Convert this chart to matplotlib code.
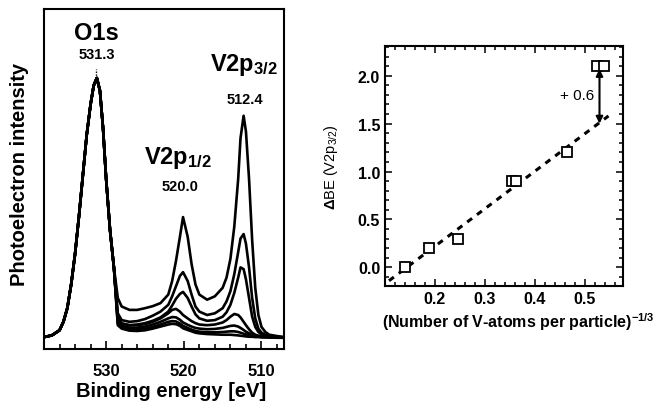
import matplotlib
matplotlib.use("Agg")
import matplotlib.pyplot as plt
from matplotlib.ticker import MultipleLocator, NullLocator

plt.rcParams['font.family'] = ['Liberation Sans', 'DejaVu Sans']
plt.rcParams['mathtext.fontset'] = 'custom'
plt.rcParams['mathtext.rm'] = 'Liberation Sans'
plt.rcParams['mathtext.bf'] = 'Liberation Sans:bold'
plt.rcParams['mathtext.default'] = 'bf'

# --- XPS spectra (binding energy in eV, intensity in arb. units) ---
# O1s region is common to all spectra (normalised to O1s)
e_o1s = [538, 537, 536, 535.5, 535, 534.5, 534, 533.5, 533, 532.5, 532, 531.6,
         531.2, 530.8, 530.4, 530, 529.5, 529]
i_o1s = [3.5, 4, 5.5, 8, 12, 19, 28, 39, 51, 63, 72, 77.5,
         79.7, 76, 65, 50, 35, 24]

e_v2p = [528.5, 528, 527, 526, 525, 524, 523, 522, 521.5, 521, 520.5, 520.1,
         519.5, 519, 518.5, 518, 517, 516, 515, 514.5, 514, 513.5, 513, 512.7,
         512.3, 512, 511.6, 511.2, 510.8, 510.4, 510, 509.5, 509, 508, 507]
spec_a = [15, 12.5, 11.5, 11.5, 12, 12.6, 13.5, 16, 20, 26, 33, 38.8,
          33, 25, 19, 16, 14.5, 15.5, 18, 21, 26.5, 36, 50, 62,
          68.6, 64, 50, 32, 18, 10, 6.5, 5, 4.2, 3.8, 3.5]
spec_b = [10.5, 8.5, 8, 8.2, 8.8, 9.8, 11, 13, 15.5, 18.5, 21.5, 22.6,
          20, 16, 12.5, 11, 10, 10.5, 12, 14, 17, 22, 28.5, 32.5,
          33.8, 31, 24, 15, 9, 6, 4.8, 4.2, 4, 3.6, 3.4]
spec_c = [9.5, 7.5, 7, 7.2, 7.6, 8.3, 9.3, 11, 12.8, 14.8, 16.2, 16.8,
          15, 12.5, 10.2, 9, 8.3, 8.5, 9.5, 10.8, 13, 16.5, 21, 24,
          23.5, 20.5, 15, 9.5, 6.5, 5, 4.3, 4, 3.8, 3.5, 3.3]
spec_d = [9, 7.5, 7, 7, 7.3, 8, 9, 10.5, 11.5, 11.8, 11, 10,
          9, 8.2, 7.6, 7.2, 7, 7.2, 7.8, 8.5, 9.5, 10.3, 10, 9.3,
          8, 7, 5.8, 4.8, 4.2, 3.9, 3.7, 3.6, 3.5, 3.4, 3.3]
spec_e = [8, 6.8, 6.3, 6.3, 6.6, 7.2, 8, 9, 9.4, 9.3, 8.6, 7.8,
          7.1, 6.6, 6.2, 6, 5.8, 5.9, 6.2, 6.5, 6.8, 6.9, 6.6, 6.2,
          5.6, 5.1, 4.6, 4.2, 4, 3.8, 3.7, 3.6, 3.5, 3.4, 3.3]
spec_f = [7.5, 6.3, 5.8, 5.8, 6, 6.5, 7.2, 8, 8.2, 8.1, 7.5, 6.8,
          6.2, 5.7, 5.3, 5.1, 4.9, 4.9, 5, 5.1, 5.2, 5.2, 5, 4.8,
          4.5, 4.3, 4.1, 3.9, 3.8, 3.7, 3.6, 3.5, 3.5, 3.4, 3.3]
spec_g = [7, 6, 5.4, 5.3, 5.5, 6, 6.6, 7.2, 7.4, 7.3, 6.8, 6.1,
          5.6, 5.2, 4.8, 4.6, 4.4, 4.3, 4.2, 4.2, 4.2, 4.1, 4, 3.9,
          3.8, 3.7, 3.6, 3.6, 3.5, 3.5, 3.4, 3.4, 3.4, 3.3, 3.3]
spectra = [spec_a, spec_b, spec_c, spec_d, spec_e, spec_f, spec_g]

# --- Binding-energy shift vs. particle size ---
size_x = [0.14, 0.188, 0.245, 0.353, 0.362, 0.463, 0.523, 0.538]
dbe_y = [0.0, 0.2, 0.3, 0.9, 0.9, 1.2, 2.1, 2.1]
fit_x = [0.108, 0.547]
fit_y = [-0.14, 1.58]

fig = plt.figure(figsize=(6.54, 4.02), dpi=100)

# ---------------- left panel ----------------
ax1 = fig.add_axes([44 / 654, 52 / 402, 240 / 654, 340 / 402])
for spec in spectra:
    ax1.plot(e_o1s + e_v2p, i_o1s + spec, color='black', lw=1.9)

ax1.plot([531.3, 531.3], [79.7, 82.5], color='black', lw=1, ls=(0, (1, 1)))
ax1.plot([531.3, 531.3], [54, 77], color='white', lw=1, ls=(0, (1, 1)))

ax1.set_xlim(538, 507.1)
ax1.set_ylim(0, 100)
ax1.xaxis.set_major_locator(MultipleLocator(10))
ax1.xaxis.set_minor_locator(MultipleLocator(2))
ax1.yaxis.set_major_locator(NullLocator())
ax1.tick_params(axis='x', which='both', direction='in', width=1.2,
                labelsize=12, pad=10)
ax1.tick_params(axis='x', which='major', length=6)
ax1.tick_params(axis='x', which='minor', length=3.5)
for lbl in ax1.get_xticklabels():
    lbl.set_fontweight('bold')
for s in ax1.spines.values():
    s.set_linewidth(1.5)

ax1.set_xlabel('Binding energy [eV]', fontsize=14.5, fontweight='bold')
ax1.xaxis.set_label_coords(0.53, -0.095)
ax1.set_ylabel('Photoelectron intensity', fontsize=14.5, fontweight='bold')
ax1.yaxis.set_label_coords(-0.062, 0.515)

ax1.text(531.2, 93.2, 'O1s', fontsize=17, fontweight='bold', ha='center', va='center')
ax1.text(531.2, 86.8, '531.3', fontsize=10.5, fontweight='bold', ha='center', va='center')
ax1.text(512.3, 83.8, r'V2p$_{3/2}$', fontsize=17, fontweight='bold', ha='center', va='center')
ax1.text(512.1, 73.5, '512.4', fontsize=10.5, fontweight='bold', ha='center', va='center')
ax1.text(520.7, 56.4, r'V2p$_{1/2}$', fontsize=17, fontweight='bold', ha='center', va='center')
ax1.text(520.5, 48, '520.0', fontsize=10.5, fontweight='bold', ha='center', va='center')

# ---------------- right panel ----------------
ax2 = fig.add_axes([385 / 654, 115 / 402, 238 / 654, 240 / 402])
ax2.plot(fit_x, fit_y, color='black', lw=2.2, ls=(0, (2, 2)))
ax2.plot(size_x, dbe_y, ls='none', marker='s', ms=7.5, mfc='white',
         mec='black', mew=1.3)
ax2.annotate('', xy=(0.529, 2.07), xytext=(0.529, 1.5),
             arrowprops=dict(arrowstyle='<|-|>', color='black', lw=1.5,
                             mutation_scale=10, shrinkA=0, shrinkB=0))
ax2.text(0.518, 1.8, '+ 0.6', fontsize=11, ha='right', va='center')

ax2.set_xlim(0.1, 0.576)
ax2.set_ylim(-0.195, 2.31)
ax2.xaxis.set_major_locator(MultipleLocator(0.1))
ax2.xaxis.set_minor_locator(MultipleLocator(0.02))
ax2.yaxis.set_major_locator(MultipleLocator(0.5))
ax2.yaxis.set_minor_locator(MultipleLocator(0.1))
ax2.set_xticks([0.2, 0.3, 0.4, 0.5])
ax2.tick_params(which='both', direction='in', top=True, right=True, width=1.1,
                labelsize=11.5)
ax2.tick_params(which='major', length=5)
ax2.tick_params(which='minor', length=3)
for lbl in ax2.get_xticklabels() + ax2.get_yticklabels():
    lbl.set_fontweight('bold')
for s in ax2.spines.values():
    s.set_linewidth(1.5)

ax2.set_xlabel(r'(Number of V-atoms per particle)$^{-1/3}$', fontsize=11.5,
               fontweight='bold')
ax2.xaxis.set_label_coords(0.56, -0.1)
ax2.set_ylabel(r'$\Delta$BE (V2p$_{\mathrm{3/2}}$)', fontsize=10.5)
ax2.yaxis.set_label_coords(-0.19, 0.5)

fig.savefig('out.png', dpi=100)
